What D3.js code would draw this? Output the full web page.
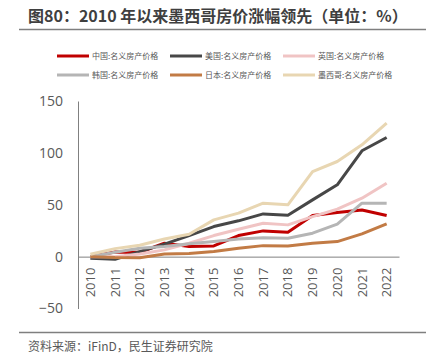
<!DOCTYPE html>
<html lang="zh">
<head>
<meta charset="UTF-8">
<title>图80</title>
<script src="https://d3js.org/d3.v7.min.js"></script>
<style>
  body { margin: 0; background: #fff; }
</style>
</head>
<body>
<div id="chart"></div>
<script>
    // data
    var years = ["2010","2011","2012","2013","2014","2015","2016","2017","2018","2019","2020","2021","2022"];
    var china  = [0, 4.5, 4.2, 12.9, 9.7, 10.3, 20.3, 24.8, 23.5, 39.6, 42.5, 45, 39.6];
    var usa    = [-1.6, -2.5, 4.8, 12, 20.3, 29, 34.5, 41.2, 39.9, 54.7, 69.2, 102, 114.8];
    var uk     = [0, 0, 2.6, 6.5, 12.9, 20.3, 26.4, 32.2, 30.6, 38.6, 45.7, 56.3, 70.8];
    var korea  = [0, 4.2, 8.1, 9.7, 12.3, 14.5, 17, 18.3, 17.7, 22.6, 31.3, 51.5, 51.5];
    var japan  = [0, -0.8, -1, 2.6, 3, 5, 8.1, 10.6, 10.3, 12.9, 14.5, 21.9, 31.6];
    var mexico = [2.3, 7.7, 11, 17, 21.6, 35.4, 41.9, 51.5, 49.9, 82, 91.7, 107.8, 128.7];
    var yTicks = [-50, 0, 50, 100, 150];

    var series = [
        {name: "中国:名义房产价格", values: china, color: "#C00000"},
        {name: "美国:名义房产价格", values: usa, color: "#474747"},
        {name: "英国:名义房产价格", values: uk, color: "#F0C4C4"},
        {name: "韩国:名义房产价格", values: korea, color: "#B5B5B5"},
        {name: "日本:名义房产价格", values: japan, color: "#C27B45"},
        {name: "墨西哥:名义房产价格", values: mexico, color: "#E8D6B2"}
    ];

    var svg = d3.select("#chart").append("svg")
        .attr("width", 438)
        .attr("height", 364);

    // title + rules
    svg.append("text")
        .attr("x", 28).attr("y", 22)
        .attr("font-family", "'Noto Sans CJK SC', sans-serif")
        .attr("font-size", 16).attr("font-weight", "bold")
        .attr("fill", "#3f3f3f")
        .text("图80：2010 年以来墨西哥房价涨幅领先（单位：%）");
    svg.append("line").attr("x1", 19).attr("x2", 426).attr("y1", 29.5).attr("y2", 29.5)
        .attr("stroke", "#7f7f7f").attr("stroke-width", 1.5);
    svg.append("line").attr("x1", 19).attr("x2", 426).attr("y1", 332.5).attr("y2", 332.5)
        .attr("stroke", "#7f7f7f").attr("stroke-width", 1.5);
    svg.append("text")
        .attr("x", 28).attr("y", 351)
        .attr("font-family", "'Noto Sans CJK SC', sans-serif")
        .attr("font-size", 12).attr("fill", "#595959")
        .text("资料来源：iFinD，民生证券研究院");

    // legend
    var legend = svg.append("g");
    series.forEach(function(s, i) {
        var col = i % 3, row = Math.floor(i / 3);
        var lx = [57, 170, 283][col], ly = [56, 75][row];
        legend.append("line")
            .attr("x1", lx).attr("x2", lx + 32).attr("y1", ly).attr("y2", ly)
            .attr("stroke", s.color).attr("stroke-width", 3);
        legend.append("text")
            .attr("x", lx + 35).attr("y", ly + 3)
            .attr("font-family", "'Noto Sans CJK SC', sans-serif")
            .attr("font-size", 8).attr("fill", "#595959")
            .text(s.name);
    });

    // scales
    var x = d3.scaleBand().domain(years).range([78, 399]).padding(0);
    var y = d3.scaleLinear().domain([-50, 150]).range([308.5, 101]);

    // y axis
    var yAxis = svg.append("g")
        .attr("transform", "translate(78,0)")
        .call(d3.axisLeft(y).tickValues(yTicks).tickSize(0).tickPadding(15));
    yAxis.select(".domain").attr("stroke", "#808080");
    yAxis.selectAll("text")
        .attr("font-family", "'Open Sans', sans-serif")
        .attr("font-size", 14).attr("fill", "#595959");

    // x axis at zero
    var xAxis = svg.append("g")
        .attr("transform", "translate(0," + y(0) + ")")
        .call(d3.axisBottom(x).tickSize(0).tickPadding(0));
    xAxis.select(".domain").attr("stroke", "#808080");
    xAxis.selectAll("text")
        .attr("font-family", "'Open Sans', sans-serif")
        .attr("font-size", 13).attr("fill", "#595959")
        .attr("text-anchor", "end")
        .attr("dy", "0.35em")
        .attr("transform", "translate(0,11) rotate(-90)");

    // lines
    var line = d3.line()
        .x(function(d, i) { return x(years[i]) + x.bandwidth() / 2; })
        .y(function(d) { return y(d); });

    svg.append("g").selectAll("path")
        .data(series)
        .join("path")
        .attr("d", function(s) { return line(s.values); })
        .attr("fill", "none")
        .attr("stroke", function(s) { return s.color; })
        .attr("stroke-width", 3)
        .attr("stroke-linejoin", "round");
</script>
</body>
</html>
